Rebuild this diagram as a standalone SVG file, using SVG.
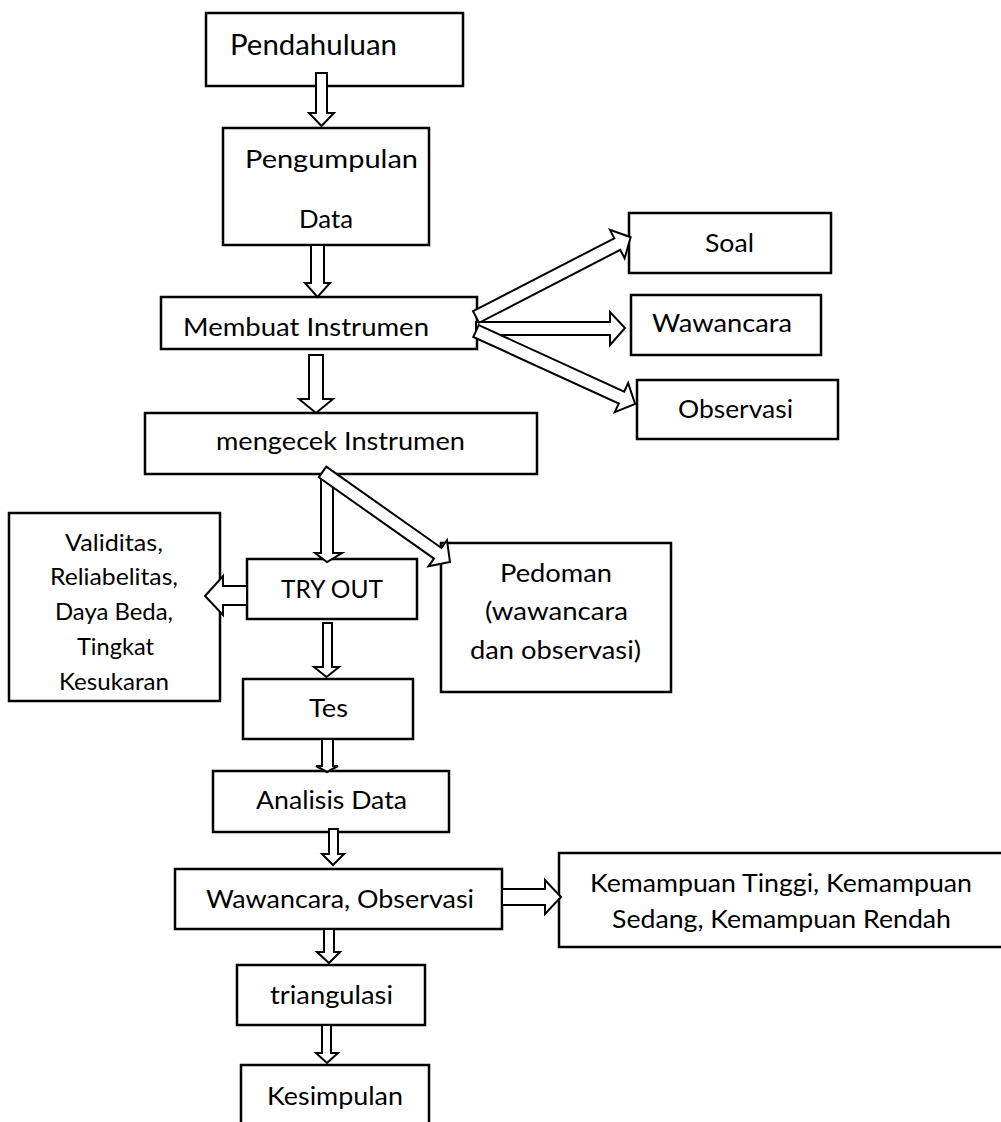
<svg xmlns="http://www.w3.org/2000/svg" width="1001" height="1122" viewBox="0 0 1001 1122">
<style>
.box{fill:#fff;stroke:#000;stroke-width:2.5}
.arr{fill:#fff;stroke:#000;stroke-width:2;stroke-linejoin:miter}
text{font-family:Lato,"Open Sans","Liberation Sans",sans-serif;font-size:25px;fill:#000}
.big{font-size:28px}
.sm{font-size:24px}
</style>
<rect width="1001" height="1122" fill="#fff"/>
<g id="n-pendahuluan"><rect class="box" x="206" y="13" width="257" height="73"/><text class="big" x="230" y="55" textLength="167" lengthAdjust="spacingAndGlyphs">Pendahuluan</text></g>
<g id="n-pengumpulan"><rect class="box" x="223" y="128" width="206" height="117"/><text x="245" y="168" textLength="173" lengthAdjust="spacingAndGlyphs">Pengumpulan</text><text x="299" y="228" textLength="54" lengthAdjust="spacingAndGlyphs">Data</text></g>
<g id="n-membuat"><rect class="box" x="161" y="297" width="316" height="52"/><text x="183" y="336" textLength="246" lengthAdjust="spacingAndGlyphs">Membuat Instrumen</text></g>
<g id="n-soal"><rect class="box" x="629" y="213" width="202" height="60"/><text x="705" y="252" textLength="49" lengthAdjust="spacingAndGlyphs">Soal</text></g>
<g id="n-wawancara"><rect class="box" x="631" y="295" width="190" height="60"/><text x="652" y="332" textLength="140" lengthAdjust="spacingAndGlyphs">Wawancara</text></g>
<g id="n-observasi"><rect class="box" x="637" y="380" width="201" height="59"/><text x="678" y="418" textLength="115" lengthAdjust="spacingAndGlyphs">Observasi</text></g>
<g id="n-mengecek"><rect class="box" x="145" y="413" width="392" height="61"/><text x="216" y="450" textLength="249" lengthAdjust="spacingAndGlyphs">mengecek Instrumen</text></g>
<g id="n-validitas"><rect class="box" x="9" y="513" width="211" height="188"/>
<text class="sm" x="65" y="551" textLength="98" lengthAdjust="spacingAndGlyphs">Validitas,</text>
<text class="sm" x="50" y="585" textLength="128" lengthAdjust="spacingAndGlyphs">Reliabelitas,</text>
<text class="sm" x="55" y="620" textLength="118" lengthAdjust="spacingAndGlyphs">Daya Beda,</text>
<text class="sm" x="77" y="655" textLength="77" lengthAdjust="spacingAndGlyphs">Tingkat</text>
<text class="sm" x="59" y="690" textLength="110" lengthAdjust="spacingAndGlyphs">Kesukaran</text></g>
<g id="n-tryout"><rect class="box" x="247" y="559" width="170" height="60"/><text x="281" y="598" textLength="102" lengthAdjust="spacingAndGlyphs">TRY OUT</text></g>
<g id="n-pedoman"><rect class="box" x="441" y="543" width="230" height="149"/>
<text x="500" y="582" textLength="112" lengthAdjust="spacingAndGlyphs">Pedoman</text>
<text x="485" y="620" textLength="143" lengthAdjust="spacingAndGlyphs">(wawancara</text>
<text x="470" y="659" textLength="171" lengthAdjust="spacingAndGlyphs">dan observasi)</text></g>
<g id="n-tes"><rect class="box" x="243" y="679" width="170" height="60"/><text x="309" y="717" textLength="39" lengthAdjust="spacingAndGlyphs">Tes</text></g>
<g id="n-analisis"><rect class="box" x="213" y="771" width="236" height="61"/><text x="256" y="809" textLength="151" lengthAdjust="spacingAndGlyphs">Analisis Data</text></g>
<g id="n-wawobs"><rect class="box" x="175" y="869" width="327" height="60"/><text x="206" y="908" textLength="268" lengthAdjust="spacingAndGlyphs">Wawancara, Observasi</text></g>
<g id="n-kemampuan"><rect class="box" x="559" y="853" width="460" height="94"/>
<text x="590" y="892" textLength="382" lengthAdjust="spacingAndGlyphs">Kemampuan Tinggi, Kemampuan</text>
<text x="612" y="928" textLength="339" lengthAdjust="spacingAndGlyphs">Sedang, Kemampuan Rendah</text></g>
<g id="n-triangulasi"><rect class="box" x="237" y="965" width="188" height="60"/><text x="270" y="1004" textLength="123" lengthAdjust="spacingAndGlyphs">triangulasi</text></g>
<g id="n-kesimpulan"><rect class="box" x="241" y="1065" width="188" height="80"/><text x="267" y="1105" textLength="136" lengthAdjust="spacingAndGlyphs">Kesimpulan</text></g>
<g id="connectors">
<polygon class="arr" points="316,73 327,73 327,113 334,113 321.5,126 309,113 316,113"/>
<polygon class="arr" points="311,245 324,245 324,283 330,283 317.5,297 305,283 311,283"/>
<polygon class="arr" points="309,355 323,355 323,399 333,399 316,413 299,399 309,399"/>
<polygon class="arr" points="476,322 610,322 610,312 625,328 610,345 610,335 476,335"/>
<polygon class="arr" transform="translate(476,317) rotate(-27.3)" points="0,-6.5 159,-6.5 159,-16 174,0 159,16 159,6.5 0,6.5"/>
<polygon class="arr" transform="translate(476,331) rotate(24.6)" points="0,-6.5 160,-6.5 160,-16 175,0 160,16 160,6.5 0,6.5"/>
<polygon class="arr" points="321,474 333,474 333,553 342,553 327,562 315,553 321,553"/>
<polygon class="arr" transform="translate(322.5,472) rotate(35.2)" points="0,-6.5 141,-6.5 141,-16 156,0 141,16 141,6.5 0,6.5"/>
<polygon class="arr" points="247,586 223,586 223,576 205,596 223,615 223,605 247,605"/>
<polygon class="arr" points="323,623 332,623 332,667 339,667 326.5,677 314,667 323,667"/>
<polygon class="arr" points="322,739 333,739 333,766 338,766 327,772 316,766 322,766"/>
<polygon class="arr" points="329,829 338,829 338,854 344,854 333,865 322,854 329,854"/>
<polygon class="arr" points="324,929 334,929 334,952 340,952 329,963 317,952 324,952"/>
<polygon class="arr" points="322,1025 331,1025 331,1053 338,1053 327,1063 316,1053 322,1053"/>
<polygon class="arr" points="502,889 545,889 545,880 561,897 545,914 545,905 502,905"/>
</g>
</svg>
